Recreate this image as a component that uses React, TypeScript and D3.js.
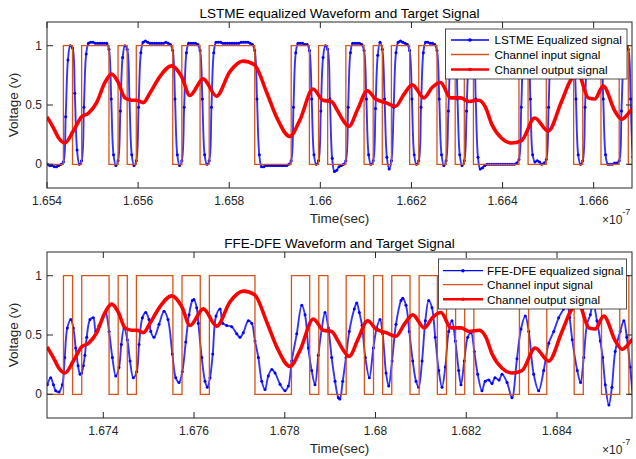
import React from "react";
import * as d3 from "d3";

// ---------- data ----------
// channel input bits (one value per bit period)
const inputBits = [
  0, 0, 1, 0, 1, 1, 1, 0, 1, 0, 1, 1, 1, 1, 0, 1, 1, 0, 1, 1, 1, 1, 1, 0, 0, 0, 0, 1, 1, 0, 1, 0, 0,
  1, 1, 0, 1, 0, 1, 1, 0, 1, 1, 0, 1, 0, 1, 0, 0, 0, 0, 0, 1, 0, 0, 1, 1, 1, 0, 1, 1, 0, 0, 1, 0,
];

// LSTME equalized signal, 4 samples per bit
const lstmeSamples = [
  0.0, 0.0, -0.01, -0.01, -0.02, -0.02, -0.01, 0.0, 0.02, 0.4, 0.88, 1.0, 0.98, 0.6, 0.12, 0.0,
  0.03, 0.48, 0.93, 1.02, 1.03, 1.03, 1.02, 1.02, 1.02, 1.02, 1.02, 1.02, 0.97, 0.55, 0.08, -0.01,
  0.03, 0.45, 0.9, 1.0, 0.97, 0.55, 0.08, -0.01, 0.03, 0.48, 0.94, 1.03, 1.04, 1.03, 1.02, 1.02,
  1.02, 1.02, 1.02, 1.02, 1.02, 1.03, 1.02, 1.01, 0.96, 0.55, 0.08, -0.01, 0.03, 0.48, 0.94, 1.02,
  1.02, 1.02, 1.02, 1.01, 0.96, 0.55, 0.08, 0.0, 0.03, 0.48, 0.94, 1.03, 1.03, 1.03, 1.02, 1.02,
  1.02, 1.02, 1.02, 1.02, 1.02, 1.02, 1.03, 1.03, 1.03, 1.03, 1.02, 1.01, 0.96, 0.55, 0.08, -0.02,
  -0.02, -0.01, -0.01, -0.01, -0.01, -0.01, -0.01, -0.01, -0.01, -0.01, -0.01, 0.0, 0.03, 0.48, 0.94, 1.02,
  1.02, 1.02, 1.01, 1.01, 0.96, 0.55, 0.08, 0.0, 0.03, 0.45, 0.9, 1.0, 0.97, 0.55, 0.05, -0.06,
  -0.05, -0.02, -0.01, 0.0, 0.03, 0.48, 0.94, 1.02, 1.02, 1.02, 1.02, 1.01, 0.96, 0.55, 0.08, 0.0,
  0.03, 0.47, 0.92, 1.03, 0.97, 0.55, 0.06, -0.04, 0.03, 0.48, 0.94, 1.03, 1.04, 1.03, 1.02, 1.01,
  0.96, 0.55, 0.08, 0.0, 0.03, 0.48, 0.94, 1.03, 1.03, 1.02, 1.02, 1.01, 0.96, 0.55, 0.08, -0.01,
  0.03, 0.45, 0.9, 1.0, 0.97, 0.55, 0.08, -0.01, 0.03, 0.45, 0.9, 1.0, 0.97, 0.55, 0.06, -0.04,
  -0.03, -0.01, 0.0, 0.0, 0.0, 0.0, 0.0, 0.0, 0.0, 0.0, 0.0, 0.0, 0.0, 0.0, 0.0, 0.01,
  0.04, 0.48, 0.92, 1.0, 0.97, 0.55, 0.08, 0.02, 0.03, 0.02, 0.0, 0.01, 0.04, 0.48, 0.94, 1.02,
  1.02, 1.02, 1.02, 1.02, 1.02, 1.02, 1.02, 1.01, 0.96, 0.55, 0.08, 0.0, 0.03, 0.48, 0.94, 1.02,
  1.02, 1.02, 1.02, 1.01, 0.96, 0.55, 0.08, 0.0, 0.0, 0.0, 0.01, 0.01, 0.03, 0.45, 0.9, 1.0,
  0.97, 0.55, 0.06, -0.06,
];

// channel output signal: [position in bits, voltage]
const outputPoints: [number, number][] = [
  [0.2, 0.4], [0.89, 0.31], [1.5, 0.22], [2.17, 0.18], [3.08, 0.28], [4.0, 0.4], [4.73, 0.43],
  [5.65, 0.52], [6.56, 0.69], [7.29, 0.76], [8.02, 0.69], [8.75, 0.56], [9.48, 0.54], [10.03, 0.54],
  [10.76, 0.52], [11.49, 0.6], [12.59, 0.74], [13.87, 0.83], [14.97, 0.74], [15.88, 0.58],
  [17.34, 0.72], [18.8, 0.575], [20.26, 0.78], [21.72, 0.87], [22.96, 0.84], [24.29, 0.61],
  [25.38, 0.4], [26.84, 0.235], [27.94, 0.37], [29.4, 0.635], [30.49, 0.54], [31.41, 0.53],
  [32.1, 0.45], [32.62, 0.38], [33.34, 0.32], [34.27, 0.46], [35.36, 0.62], [36.27, 0.55],
  [37.37, 0.52], [38.46, 0.49], [39.37, 0.59], [40.3, 0.67], [41.57, 0.56], [42.49, 0.65],
  [43.4, 0.69], [44.5, 0.56], [45.6, 0.56], [46.5, 0.53], [47.6, 0.54], [48.33, 0.48], [49.0, 0.34],
  [50.1, 0.22], [51.18, 0.18], [52.28, 0.2], [53.73, 0.39], [55.2, 0.28], [56.67, 0.53],
  [57.76, 0.72], [58.5, 0.76], [59.6, 0.56], [60.32, 0.55], [61.24, 0.66], [62.52, 0.45],
  [63.25, 0.38], [64.35, 0.46], [64.8, 0.49],
];

// FFE-DFE equalized signal: [position in bits, voltage]
const ffeDfePoints: [number, number][] = [
  [0.23, 0.08], [0.6, 0.14], [0.9, 0.08], [1.15, 0.03], [1.51, 0.02], [1.875, 0.08], [2.14, 0.31],
  [2.42, 0.56], [2.8, 0.63], [3.08, 0.56], [3.34, 0.39], [3.6, 0.24], [3.82, 0.17], [4.0, 0.18],
  [4.18, 0.24], [4.35, 0.33], [4.55, 0.48], [4.91, 0.63], [5.27, 0.645], [5.54, 0.53], [5.9, 0.58],
  [6.37, 0.66], [6.63, 0.69], [7.0, 0.53], [7.36, 0.31], [7.73, 0.155], [8.09, 0.225], [8.34, 0.42],
  [8.64, 0.56], [9.0, 0.46], [9.3, 0.28], [9.66, 0.14], [10.03, 0.19], [10.29, 0.42], [10.65, 0.645],
  [11.02, 0.69], [11.38, 0.63], [11.57, 0.53], [11.93, 0.48], [12.48, 0.59], [13.03, 0.7],
  [13.46, 0.63], [13.94, 0.34], [14.31, 0.14], [14.67, 0.1], [15.03, 0.19], [15.41, 0.44],
  [15.77, 0.67], [16.13, 0.79], [16.3, 0.8], [16.61, 0.73], [16.79, 0.6], [17.16, 0.31],
  [17.52, 0.11], [17.77, 0.06], [18.07, 0.14], [18.37, 0.34], [18.73, 0.66], [19.17, 0.72],
  [19.46, 0.6], [19.9, 0.58], [20.45, 0.57], [21.0, 0.51], [21.36, 0.48], [21.72, 0.52],
  [22.27, 0.62], [22.64, 0.6], [23.0, 0.45], [23.37, 0.31], [23.74, 0.11], [24.1, 0.04],
  [24.46, 0.155], [24.84, 0.21], [25.2, 0.18], [25.75, 0.085], [26.29, 0.03], [26.66, 0.07],
  [27.03, 0.28], [27.58, 0.51], [28.13, 0.75], [28.49, 0.67], [28.85, 0.39], [29.22, 0.2],
  [29.58, 0.08], [29.95, 0.33], [30.32, 0.55], [30.68, 0.69], [31.04, 0.56], [31.41, 0.31],
  [31.78, 0.11], [32.14, -0.03], [32.3, -0.04], [32.62, 0.11], [32.98, 0.31], [33.34, 0.53],
  [33.89, 0.72], [34.16, 0.77], [34.44, 0.69], [34.74, 0.58], [35.1, 0.31], [35.54, 0.14],
  [35.98, 0.39], [36.35, 0.56], [36.71, 0.63], [37.0, 0.51], [37.37, 0.18], [37.66, 0.07],
  [38.03, 0.28], [38.46, 0.59], [39.01, 0.79], [39.2, 0.81], [39.56, 0.75], [39.92, 0.53],
  [40.3, 0.28], [40.66, 0.11], [40.95, 0.06], [41.32, 0.28], [41.68, 0.62], [42.05, 0.79],
  [42.41, 0.73], [42.77, 0.48], [43.15, 0.2], [43.51, 0.06], [43.87, 0.23], [44.24, 0.53],
  [44.6, 0.62], [44.97, 0.45], [45.34, 0.2], [45.59, 0.08], [45.95, 0.28], [46.33, 0.48],
  [46.69, 0.52], [47.05, 0.36], [47.42, 0.17], [47.89, 0.03], [48.25, 0.11], [48.65, 0.12],
  [48.99, 0.09], [49.32, 0.14], [49.76, 0.12], [50.09, 0.17], [50.64, 0.1], [51.18, -0.03],
  [51.73, 0.3], [52.17, 0.55], [52.64, 0.66], [53.02, 0.53], [53.56, 0.17], [54.11, 0.03],
  [54.66, 0.2], [55.21, 0.43], [55.76, 0.53], [56.3, 0.645], [56.85, 0.72], [57.21, 0.78],
  [57.5, 0.65], [57.79, 0.46], [58.34, 0.2], [58.7, 0.1], [59.05, 0.31], [59.41, 0.59],
  [59.77, 0.67], [60.07, 0.78], [60.5, 0.62], [60.87, 0.45], [61.13, 0.31], [61.41, 0.08],
  [61.81, -0.09], [62.14, 0.06], [62.5, 0.36], [63.05, 0.53], [63.45, 0.62], [63.77, 0.48],
  [64.14, 0.23], [64.5, -0.05], [64.75, -0.13],
];

const topXTicks = [1.654, 1.656, 1.658, 1.66, 1.662, 1.664, 1.666];
const topXTickLabels = ["1.654", "1.656", "1.658", "1.66", "1.662", "1.664", "1.666"];
const bottomXTicks = [1.674, 1.676, 1.678, 1.68, 1.682, 1.684];
const bottomXTickLabels = ["1.674", "1.676", "1.678", "1.68", "1.682", "1.684"];
const yTicks = [0, 0.5, 1];
const yTickLabels = ["0", "0.5", "1"];

const topLegend = ["LSTME Equalized signal", "Channel input signal", "Channel output signal"];
const bottomLegend = ["FFE-DFE equalized signal", "Channel input signal", "Channel output signal"];

// ---------- drawing ----------
const FONT = "'Liberation Sans', Arial, Helvetica, sans-serif";
const AX = "#262626";
const BLUE = "#0000FF";
const ORANGE = "#D95319";
const RED = "#FF0000";

type Frame = { l: number; r: number; t: number; b: number };
type Leg = { x: number; y: number; w: number; h: number; rows: number[]; lx0: number; lx1: number; tx: number };

function Panel(props: {
  id: string;
  frame: Frame;
  xDomain: [number, number];
  bitStart: number;
  bitPeriod: number;
  xTicks: number[];
  xTickLabels: string[];
  title: string;
  eqPoints: [number, number][];
  legendLabels: string[];
  legend: Leg;
}) {
  const { id, frame, xDomain, bitStart, bitPeriod, xTicks, xTickLabels, title, eqPoints, legendLabels, legend } = props;
  const x = d3.scaleLinear().domain(xDomain).range([frame.l, frame.r]);
  const y = d3.scaleLinear().domain([-0.2, 1.2]).range([frame.b, frame.t]);
  const bx = (b: number) => x(bitStart + b * bitPeriod);
  const eqLine = d3
    .line<[number, number]>()
    .x((d) => bx(d[0]))
    .y((d) => y(d[1]))
    .curve(d3.curveCatmullRom.alpha(0.5));
  const outLine = d3
    .line<[number, number]>()
    .x((d) => bx(d[0]))
    .y((d) => y(d[1]))
    .curve(d3.curveMonotoneX);
  const stepPts: [number, number][] = inputBits.map((v, k) => [k, v] as [number, number]);
  stepPts.push([inputBits.length, inputBits[inputBits.length - 1]]);
  const step = d3
    .line<[number, number]>()
    .x((d) => bx(d[0]))
    .y((d) => y(d[1]))
    .curve(d3.curveStepAfter);
  const cx = (frame.l + frame.r) / 2;
  const cy = (frame.t + frame.b) / 2;
  const TL = 6;

  return (
    <g>
      <defs>
        <clipPath id={id}>
          <rect x={frame.l} y={frame.t} width={frame.r - frame.l} height={frame.b - frame.t} />
        </clipPath>
      </defs>
      <rect x={frame.l} y={frame.t} width={frame.r - frame.l} height={frame.b - frame.t} fill="#fff" />
      <g clipPath={`url(#${id})`}>
        <path d={eqLine(eqPoints) || ""} fill="none" stroke={BLUE} strokeWidth={1.9} strokeOpacity={0.8} />
        {eqPoints.map((d, i) => (
          <circle key={i} cx={bx(d[0])} cy={y(d[1])} r={1.5} fill={BLUE} />
        ))}
        <path d={step(stepPts) || ""} fill="none" stroke={ORANGE} strokeWidth={1.3} />
        <path d={outLine(outputPoints) || ""} fill="none" stroke={RED} strokeWidth={3.6} strokeLinejoin="round" />
      </g>
      {/* axes box */}
      <rect
        x={frame.l}
        y={frame.t}
        width={frame.r - frame.l}
        height={frame.b - frame.t}
        fill="none"
        stroke={AX}
        strokeWidth={1}
      />
      {xTicks.map((t, i) => (
        <g key={"xt" + i}>
          <line x1={x(t)} x2={x(t)} y1={frame.b} y2={frame.b - TL} stroke={AX} strokeWidth={1} />
          <line x1={x(t)} x2={x(t)} y1={frame.t} y2={frame.t + TL} stroke={AX} strokeWidth={1} />
          <text x={x(t)} y={frame.b + 17} textAnchor="middle" fontFamily={FONT} fontSize={12} fill={AX}>
            {xTickLabels[i]}
          </text>
        </g>
      ))}
      {yTicks.map((t, i) => (
        <g key={"yt" + i}>
          <line x1={frame.l} x2={frame.l + TL} y1={y(t)} y2={y(t)} stroke={AX} strokeWidth={1} />
          <line x1={frame.r} x2={frame.r - TL} y1={y(t)} y2={y(t)} stroke={AX} strokeWidth={1} />
          <text x={frame.l - 5} y={y(t) + 4.2} textAnchor="end" fontFamily={FONT} fontSize={12} fill={AX}>
            {yTickLabels[i]}
          </text>
        </g>
      ))}
      <text x={cx} y={frame.t - 4} textAnchor="middle" fontFamily={FONT} fontSize={13.5} fill="#000">
        {title}
      </text>
      <text x={cx} y={frame.b + 34.5} textAnchor="middle" fontFamily={FONT} fontSize={13.5} fill={AX}>
        Time(sec)
      </text>
      <text
        transform={`translate(18,${cy}) rotate(-90)`}
        textAnchor="middle"
        fontFamily={FONT}
        fontSize={13.5}
        fill={AX}
      >
        Voltage (v)
      </text>
      <text x={602} y={frame.b + 36} fontFamily={FONT} fontSize={12} fill={AX}>
        ×10
        <tspan fontSize={9} dy={-9}>
          -7
        </tspan>
      </text>
      {/* legend */}
      <rect x={legend.x} y={legend.y} width={legend.w} height={legend.h} fill="#fff" stroke={AX} strokeWidth={0.8} />
      {legendLabels.map((lab, i) => {
        const ry = legend.rows[i];
        const col = i === 0 ? BLUE : i === 1 ? ORANGE : RED;
        const sw = i === 2 ? 2.4 : 1.3;
        return (
          <g key={"lg" + i}>
            <line x1={legend.lx0} x2={legend.lx1} y1={ry} y2={ry} stroke={col} strokeWidth={sw} />
            {i !== 1 && <circle cx={(legend.lx0 + legend.lx1) / 2} cy={ry} r={1.8} fill={col} />}
            <text x={legend.tx} y={ry + 4.2} fontFamily={FONT} fontSize={11.7} fill="#000">
              {lab}
            </text>
          </g>
        );
      })}
    </g>
  );
}

export default function App() {
  return (
    <svg
      width={636}
      height={459}
      viewBox="0 0 636 459"
      style={{ position: "absolute", left: 0, top: 0, background: "#fff" }}
    >
      <rect x={0} y={0} width={636} height={459} fill="#fff" />
      <Panel
        id="clipTop"
        frame={{ l: 47, r: 632, t: 22, b: 188 }}
        xDomain={[1.654, 1.666841]}
        bitStart={1.65396}
        bitPeriod={0.0002}
        xTicks={topXTicks}
        xTickLabels={topXTickLabels}
        title="LSTME equalized Waveform and Target Signal"
        eqPoints={lstmeSamples.map((v, i) => [i / 4, v] as [number, number])}
        legendLabels={topLegend}
        legend={{ x: 445.5, y: 29, w: 181.5, h: 50, rows: [40, 54.5, 69.5], lx0: 451, lx1: 489, tx: 494.5 }}
      />
      <Panel
        id="clipBottom"
        frame={{ l: 47, r: 632, t: 252, b: 418 }}
        xDomain={[1.672759, 1.685653]}
        bitStart={1.67272}
        bitPeriod={0.000201}
        xTicks={bottomXTicks}
        xTickLabels={bottomXTickLabels}
        title="FFE-DFE Waveform and Target Signal"
        eqPoints={ffeDfePoints}
        legendLabels={bottomLegend}
        legend={{ x: 438.5, y: 259, w: 188, h: 50, rows: [270.7, 284.7, 299.3], lx0: 443, lx1: 483, tx: 487 }}
      />
    </svg>
  );
}
